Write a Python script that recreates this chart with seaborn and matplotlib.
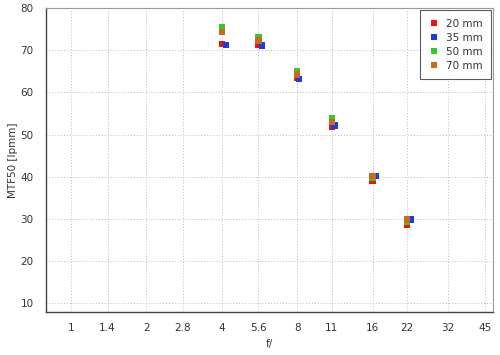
import pandas as pd
import matplotlib
matplotlib.use('Agg')
import matplotlib.pyplot as plt
import seaborn as sns
from matplotlib.ticker import FixedLocator, NullLocator, MultipleLocator

# f-stops on the axis
stops = [1, 1.4, 2, 2.8, 4, 5.6, 8, 11, 16, 22, 32, 45]

# measured apertures per lens (35 mm sits a touch to the right)
f_20 = [4, 5.6, 8, 11, 16, 22]
f_35 = [4.15, 5.8, 8.15, 11.3, 16.5, 22.7]
f_50 = [4, 5.6, 8, 11, 16, 22]
f_70 = [4, 5.6, 8, 11, 16, 22]

mtf_20 = [71.5, 71.3, 63.5, 51.8, 39.0, 28.7]
mtf_35 = [71.3, 71.2, 63.2, 52.2, 40.2, 29.8]
mtf_50 = [75.5, 73.0, 65.0, 53.8, 39.7, 29.3]
mtf_70 = [74.3, 72.3, 64.3, 53.0, 40.2, 29.8]

lenses = ['20 mm', '35 mm', '50 mm', '70 mm']
colors = ['#ee1111', '#1a3be6', '#33cc22', '#cc6a1a']

df = pd.concat([
    pd.DataFrame({'f': f_20, 'mtf': mtf_20, 'lens': '20 mm'}),
    pd.DataFrame({'f': f_35, 'mtf': mtf_35, 'lens': '35 mm'}),
    pd.DataFrame({'f': f_50, 'mtf': mtf_50, 'lens': '50 mm'}),
    pd.DataFrame({'f': f_70, 'mtf': mtf_70, 'lens': '70 mm'}),
])

sns.set_style('white')
plt.rcParams['font.family'] = ['DejaVu Sans']

fig = plt.figure(figsize=(5, 3.55), dpi=100)
ax = fig.add_axes([0.092, 0.121, 0.894, 0.856])

sns.scatterplot(data=df, x='f', y='mtf', hue='lens', hue_order=lenses,
                palette=colors, marker='s', s=22, linewidth=0, ax=ax, zorder=3)

ax.set_xscale('log')
ax.set_xlim(0.795, 48.4)
ax.set_ylim(7.9, 80)
ax.xaxis.set_major_locator(FixedLocator(stops))
ax.xaxis.set_minor_locator(NullLocator())
ax.set_xticklabels([str(s) for s in stops])
ax.yaxis.set_major_locator(MultipleLocator(10))
ax.yaxis.set_minor_locator(MultipleLocator(2))

ax.grid(True, which='major', color='#bbbbbb', linestyle=(0, (1, 2)), linewidth=0.7)
ax.tick_params(axis='both', which='major', direction='in', length=4, width=0.8,
               color='#333333', labelsize=7.5, labelcolor='#333333')
ax.tick_params(axis='x', which='major', pad=8)
ax.tick_params(axis='y', which='major', pad=9)
ax.tick_params(axis='y', which='minor', direction='in', length=2, width=0.6, color='#333333')

for side in ['left', 'bottom']:
    ax.spines[side].set_color('#444444')
    ax.spines[side].set_linewidth(1.0)
for side in ['top', 'right']:
    ax.spines[side].set_color('#999999')
    ax.spines[side].set_linewidth(0.8)

ax.set_xlabel('f/', fontsize=7.5, color='#333333', labelpad=4)
ax.set_ylabel('MTF50 [lpmm]', fontsize=7.5, color='#333333', labelpad=2)

leg = ax.legend(loc='upper right', fontsize=7.5, frameon=True, fancybox=False,
                edgecolor='#333333', handletextpad=0.5, borderpad=0.8,
                labelspacing=0.4, markerscale=0.9, handlelength=1.2,
                bbox_to_anchor=(1.0, 1.0), borderaxespad=0.2)
leg.get_frame().set_linewidth(0.8)
for t in leg.get_texts():
    t.set_color('#333333')

fig.savefig('out.png', dpi=100)
